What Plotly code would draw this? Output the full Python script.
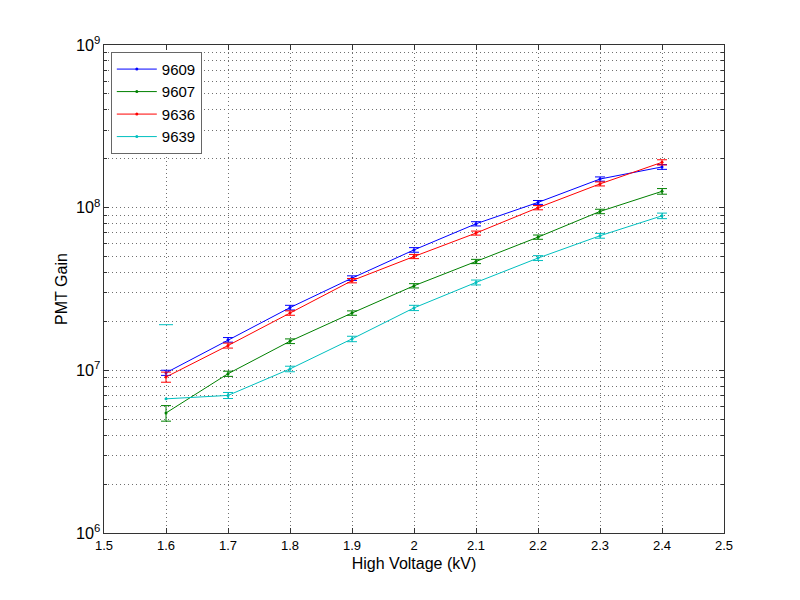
import numpy as np
import plotly.graph_objects as go

# Gain PMT en fonction de la haute tension
voltage = [1.6, 1.7, 1.8, 1.9, 2.0, 2.1, 2.2, 2.3, 2.4]
tubes = ["9609", "9607", "9636", "9639"]

gain_9609 = [9.66e6, 1.54e7, 2.43e7, 3.69e7, 5.50e7, 7.96e7, 1.077e8, 1.50e8, 1.78e8]
err_9609 = [0.35e6, 0.5e6, 0.8e6, 1.2e6, 1.8e6, 2.4e6, 3.0e6, 4.5e6, 6.0e6]

gain_9607 = [5.47e6, 9.53e6, 1.51e7, 2.25e7, 3.31e7, 4.67e7, 6.59e7, 9.48e7, 1.26e8]
err_9607 = [0.6e6, 0.35e6, 0.5e6, 0.7e6, 1.0e6, 1.4e6, 2.0e6, 3.0e6, 5.0e6]

gain_9636 = [9.1e6, 1.42e7, 2.25e7, 3.56e7, 5.01e7, 6.98e7, 1.00e8, 1.40e8, 1.90e8]
err_9636 = [0.65e6, 0.5e6, 0.7e6, 1.1e6, 1.5e6, 2.0e6, 3.0e6, 4.0e6, 7.0e6]

gain_9639 = [6.68e6, 7.01e6, 1.02e7, 1.56e7, 2.42e7, 3.47e7, 4.90e7, 6.72e7, 8.91e7]
err_9639 = [1.24e7, 0.3e6, 0.4e6, 0.6e6, 0.9e6, 1.2e6, 1.7e6, 2.3e6, 3.5e6]

gains = {"9609": gain_9609, "9607": gain_9607, "9636": gain_9636, "9639": gain_9639}
errors = {"9609": err_9609, "9607": err_9607, "9636": err_9636, "9639": err_9639}
colors = {"9609": "#0000ff", "9607": "#008000", "9636": "#ff0000", "9639": "#00bfbf"}

fig = go.Figure()

for t in tubes:
    v = np.array(gains[t])
    e = np.array(errors[t])
    x = np.array(voltage)
    ok = (v - e) > 0

    # barres d'erreur complètes (quand la borne basse est positive)
    fig.add_trace(go.Scatter(
        x=x[ok], y=v[ok], mode="markers",
        marker=dict(size=1, opacity=0, color=colors[t]),
        error_y=dict(type="data", array=e[ok], color=colors[t], thickness=1, width=5),
        showlegend=False, hoverinfo="skip"
    ))
    # sinon, seulement le chapeau du haut (échelle log)
    if (~ok).any():
        fig.add_trace(go.Scatter(
            x=x[~ok], y=(v + e)[~ok], mode="markers",
            marker=dict(symbol="line-ew", size=10, color=colors[t],
                        line=dict(width=1, color=colors[t])),
            showlegend=False, hoverinfo="skip"
        ))

    fig.add_trace(go.Scatter(
        x=voltage, y=gains[t], name=t, mode="lines+markers",
        line=dict(color=colors[t], width=1),
        marker=dict(size=3, color=colors[t])
    ))

axis_font = dict(family="Liberation Sans, Arial, sans-serif", size=13, color="#000")
grid_dash = "1px,3px"

# la page ajoute 8px de marge autour de la figure
fig.update_layout(
    width=792, height=592,
    paper_bgcolor="white", plot_bgcolor="white",
    margin=dict(l=96, r=76, t=37, b=67),
    font=axis_font,
    showlegend=True,
    legend=dict(
        x=0.011, y=0.986, xanchor="left", yanchor="top",
        bgcolor="white", bordercolor="#666", borderwidth=1,
        font=dict(family="Liberation Sans, Arial, sans-serif", size=15, color="#000"),
        tracegroupgap=0, itemwidth=40
    ),
    xaxis=dict(
        title=dict(text="High Voltage (kV)", standoff=6),
        range=[1.5, 2.5], dtick=0.1,
        showgrid=True, gridcolor="#707070", griddash=grid_dash, gridwidth=1,
        ticks="inside", ticklen=5, tickcolor="#333",
        showline=True, linecolor="#333", linewidth=1, mirror="ticks",
        zeroline=False
    ),
    yaxis=dict(
        title=dict(text="PMT Gain", standoff=4),
        type="log", range=[6, 9], dtick=1, exponentformat="power",
        showgrid=True, gridcolor="#707070", griddash=grid_dash, gridwidth=1,
        ticks="inside", ticklen=5, tickcolor="#333",
        showline=True, linecolor="#333", linewidth=1, mirror="ticks",
        zeroline=False,
        minor=dict(dtick="D1", showgrid=True, gridcolor="#707070", griddash=grid_dash,
                   ticks="inside", ticklen=3, tickcolor="#333")
    )
)

fig.write_html("out.html")
